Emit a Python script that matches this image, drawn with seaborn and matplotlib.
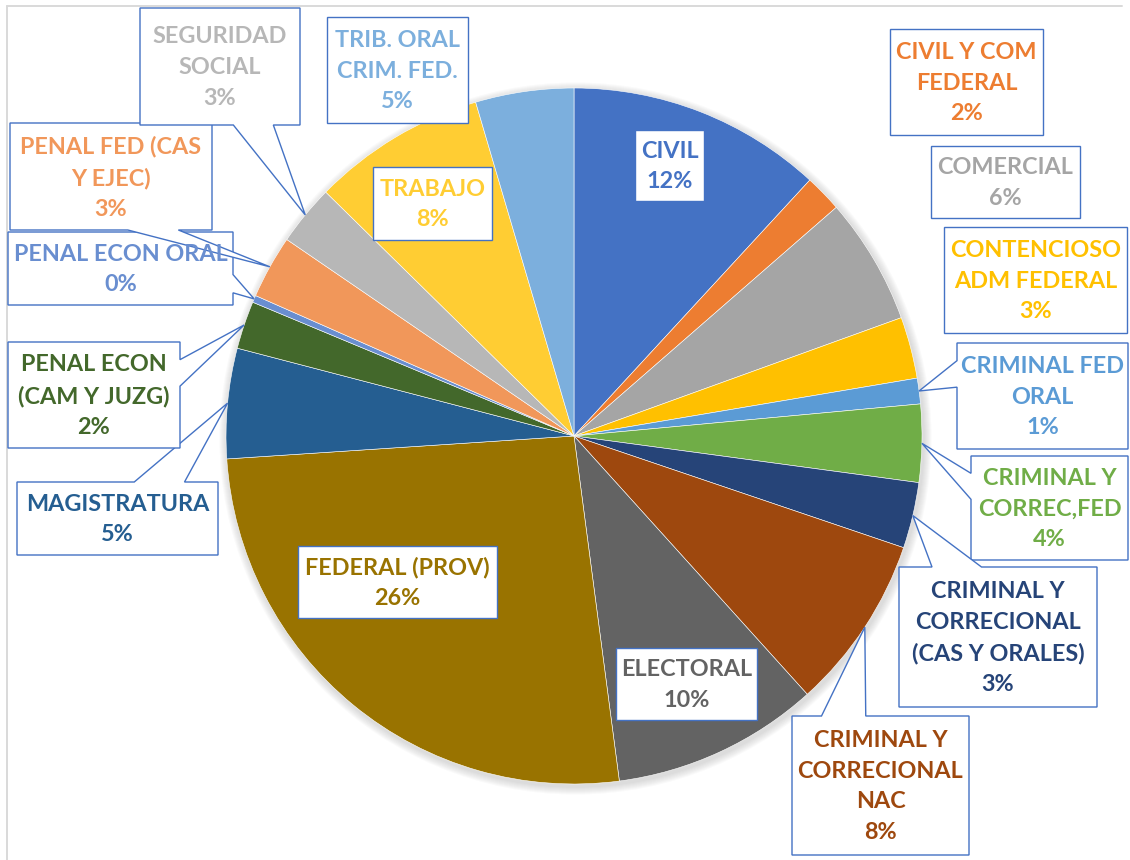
import numpy as np
import pandas as pd
import seaborn as sns
import matplotlib.pyplot as plt
from matplotlib.patches import Polygon, Circle

# datos (orden horario desde las 12)
categorias = [
    "CIVIL", "CIVIL Y COM\nFEDERAL", "COMERCIAL", "CONTENCIOSO\nADM FEDERAL",
    "CRIMINAL FED\nORAL", "CRIMINAL Y\nCORREC,FED",
    "CRIMINAL Y\nCORRECIONAL\n(CAS Y ORALES)", "CRIMINAL Y\nCORRECIONAL\nNAC",
    "ELECTORAL", "FEDERAL (PROV)", "MAGISTRATURA", "PENAL ECON\n(CAM Y JUZG)",
    "PENAL ECON ORAL", "PENAL FED (CAS\nY EJEC)", "SEGURIDAD\nSOCIAL",
    "TRABAJO", "TRIB. ORAL\nCRIM. FED.",
]
porcentajes = [11.85, 1.74, 5.89, 2.86, 1.19, 3.61, 3.06, 8.11, 9.61,
               26.03, 5.11, 2.22, 0.33, 2.94, 2.81, 8.08, 4.56]
colores = ["#4472C4", "#ED7D31", "#A5A5A5", "#FFC000", "#5B9BD5", "#70AD47",
           "#264478", "#9E480E", "#636363", "#997300", "#255E91", "#43682B",
           "#698ED0", "#F1975A", "#B7B7B7", "#FFCD33", "#7CAFDD"]

# cajas de etiquetas en pixeles (x0, y0, x1, y1, con_flecha)
cajas = [
    (635, 130, 704, 201, False),
    (890, 29, 1043, 135, False),
    (931, 146, 1080, 218, False),
    (944, 227, 1127, 333, False),
    (957, 343, 1128, 449, True),
    (971, 456, 1128, 560, True),
    (899, 567, 1097, 707, True),
    (792, 716, 969, 855, True),
    (616, 648, 757, 720, False),
    (298, 546, 497, 618, False),
    (17, 482, 218, 555, True),
    (8, 342, 180, 448, True),
    (8, 232, 233, 305, True),
    (10, 123, 212, 230, True),
    (140, 8, 300, 125, True),
    (373, 167, 492, 240, False),
    (327, 17, 468, 123, False),
]

W, H = 1130, 860
CX, CY, R = 574, 436, 348
BORDE = "#4472C4"


def callout(x0, y0, x1, y1, tip):
    # forma tipo "wedgeRectCallout" de Excel
    w, h = x1 - x0, y1 - y0
    dx, dy = tip[0] - (x0 + x1) / 2, tip[1] - (y0 + y1) / 2
    if abs(dy) > abs(dx * h / w):
        f1, f2 = (7, 10) if dx > 0 else (2, 5)
        xa, xb = x0 + w * f1 / 12, x0 + w * f2 / 12
        if dy > 0:
            return [(x0, y0), (x1, y0), (x1, y1), (xb, y1), tip, (xa, y1), (x0, y1)]
        return [(x0, y0), (xa, y0), tip, (xb, y0), (x1, y0), (x1, y1), (x0, y1)]
    f1, f2 = (7, 10) if dy > 0 else (2, 5)
    ya, yb = y0 + h * f1 / 12, y0 + h * f2 / 12
    if dx > 0:
        return [(x0, y0), (x1, y0), (x1, ya), tip, (x1, yb), (x1, y1), (x0, y1)]
    return [(x0, y0), (x1, y0), (x1, y1), (x0, y1), (x0, yb), tip, (x0, ya)]


sns.set_theme(style="white")
plt.rcParams['font.family'] = ['Lato', 'DejaVu Sans']

fig = plt.figure(figsize=(W / 100, H / 100), dpi=100)
ax = fig.add_axes([0, 0, 1, 1])

# sombra suave del pastel
for k in range(8):
    ax.add_patch(Circle((CX + 1.5, CY + 2.5), R + 1 + k, color="#7f7f7f",
                        alpha=0.035, lw=0, zorder=0))

ax.pie(porcentajes, colors=colores, startangle=-90, counterclock=True,
       center=(CX, CY), radius=R,
       wedgeprops=dict(linewidth=0.4, edgecolor="#ffffff"))

ax.set_xlim(0, W)
ax.set_ylim(H, 0)
ax.set_aspect('equal')
ax.axis('off')

# marco del area del grafico
ax.plot([7, 7], [6, H], color="#D9D9D9", lw=1.4, zorder=0)
ax.plot([7, 1122], [6, 6], color="#D9D9D9", lw=1.4, zorder=0)

acum = np.cumsum(porcentajes) - np.array(porcentajes) / 2
for cat, pct, col, caja, a in zip(categorias, porcentajes, colores, cajas, acum):
    x0, y0, x1, y1, flecha = caja
    ang = np.deg2rad(a / 100 * 360)
    tip = (CX + R * np.sin(ang), CY - R * np.cos(ang))
    if flecha:
        pts = callout(x0, y0, x1, y1, tip)
    else:
        pts = [(x0, y0), (x1, y0), (x1, y1), (x0, y1)]
    ax.add_patch(Polygon(pts, closed=True, facecolor="white", edgecolor=BORDE,
                         lw=1.0, zorder=3))
    ax.text((x0 + x1) / 2, (y0 + y1) / 2 + 1, f"{cat}\n{round(pct)}%",
            ha='center', va='center', multialignment='center',
            fontsize=16.8, fontweight='bold', color=col, linespacing=1.58,
            zorder=4)

fig.savefig("out.png", dpi=100)
